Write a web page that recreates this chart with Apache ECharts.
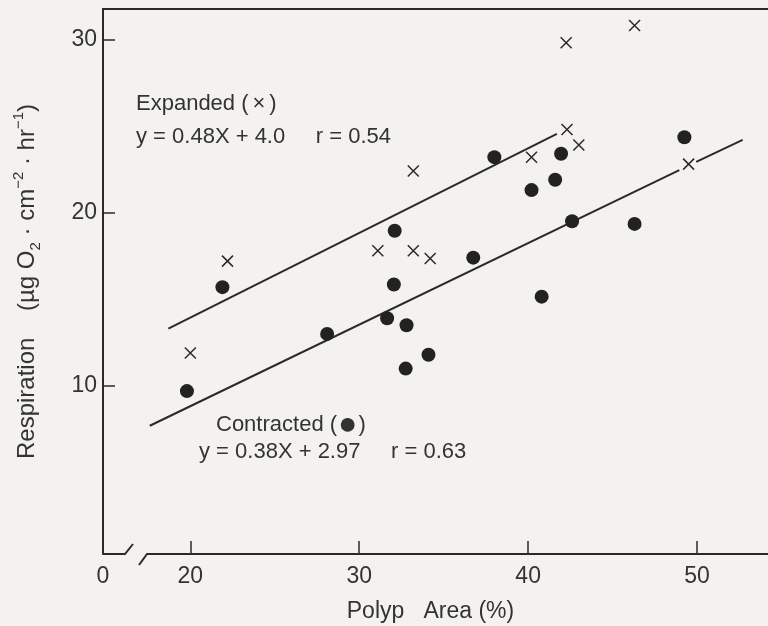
<!DOCTYPE html>
<html>
<head>
<meta charset="utf-8">
<script src="https://cdn.jsdelivr.net/npm/echarts@6/dist/echarts.min.js"></script>
<style>
html,body{margin:0;padding:0;background:#f3f2ee;}
#main{width:768px;height:626px;}
</style>
</head>
<body>
<div id="main"></div>
<script>
// ---- data ----
const expandedX = [20.0, 22.2, 31.1, 33.2, 34.2, 33.2, 40.2, 42.3, 43.0, 42.25, 46.3, 49.5];
const expandedY = [11.9, 17.2, 17.8, 17.8, 17.35, 22.4, 23.2, 24.8, 23.9, 29.8, 30.8, 22.8];
const contractedX = [19.8, 21.9, 28.1, 31.65, 32.8, 32.75, 34.1, 32.05, 32.1, 36.75, 38.0, 40.2, 41.6, 41.95, 40.8, 42.6, 46.3, 49.25];
const contractedY = [9.7, 15.7, 13.0, 13.9, 13.5, 11.0, 11.8, 15.85, 18.95, 17.4, 23.2, 21.3, 21.9, 23.4, 15.15, 19.5, 19.35, 24.35];
const expandedFitX = [18.7, 41.7];
const expandedFitY = [13.3, 24.55];
const contractedFitX = [17.6, 48.95, '-', 49.95, 52.7];
const contractedFitY = [7.7, 22.45, '-', 22.93, 24.2];
const xTickValues = [20, 30, 40, 50];
const yTickValues = [10, 20, 30];
const xMin = 14.83, xMax = 54.2, yMin = 0.3, yMax = 31.75;
const xZeroLabel = '0';
const expandedLabel = '{a|Expanded (}{b|×}{a|)}';
const expandedEq = 'y = 0.48X + 4.0     r = 0.54';
const contractedLabel = '{a|Contracted (}{b|●}{a|)}';
const contractedEq = 'y = 0.38X + 2.97     r = 0.63';

const ink = '#2a2a2a';
const txt = '#333333';
const font = 'Liberation Sans';

const zip = (xs, ys) => xs.map((x, i) => [x, ys[i]]);

const chart = echarts.init(document.getElementById('main'), null, {renderer: 'canvas'});
const option = {
  backgroundColor: '#f3f2ee',
  animation: false,
  textStyle: {fontFamily: font},
  grid: {left: 103, right: 0, top: 9, bottom: 72, outerBoundsMode: 'none', containLabel: false},
  xAxis: [{
    type: 'value', min: xMin, max: xMax,
    axisLine: {show: false},
    axisTick: {show: true, inside: true, length: 13, lineStyle: {color: ink, width: 1.5}, customValues: xTickValues},
    axisLabel: {show: true, color: txt, fontSize: 23, fontFamily: font, margin: 11,
      customValues: [xMin].concat(xTickValues),
      formatter: v => (Math.abs(v - xMin) < 1e-6 ? xZeroLabel : String(v))},
    splitLine: {show: false},
    name: 'Polyp   Area (%)', nameLocation: 'middle', nameGap: 46,
    nameTextStyle: {color: txt, fontSize: 23, fontFamily: font, padding: [0, 10, 0, 0]}
  }, {
    type: 'value', position: 'top', min: xMin, max: xMax,
    axisLine: {show: true, onZero: false, lineStyle: {color: ink, width: 2}},
    axisTick: {show: false}, axisLabel: {show: false}, splitLine: {show: false}
  }],
  yAxis: {
    type: 'value', min: yMin, max: yMax,
    axisLine: {show: true, onZero: false, lineStyle: {color: ink, width: 2}},
    axisTick: {show: true, inside: true, length: 12, lineStyle: {color: ink, width: 1.5}, customValues: yTickValues},
    axisLabel: {show: true, color: txt, fontSize: 23, fontFamily: font, margin: 6, customValues: yTickValues},
    splitLine: {show: false},
    name: '{a|Respiration    (µg O}{sub|2}{a| · cm}{sup|−2}{a| · hr}{sup|−1}{a|)}',
    nameLocation: 'middle', nameGap: 60,
    nameTextStyle: {
      color: txt, fontFamily: font,
      rich: {
        a: {fontSize: 24, color: txt, fontFamily: font, lineHeight: 32, verticalAlign: 'middle'},
        sub: {fontSize: 15, color: txt, fontFamily: font, lineHeight: 32, verticalAlign: 'bottom'},
        sup: {fontSize: 15, color: txt, fontFamily: font, lineHeight: 32, verticalAlign: 'top'}
      }
    }
  },
  series: [{
    name: 'Expanded fit', type: 'line', data: zip(expandedFitX, expandedFitY),
    showSymbol: false, symbol: 'none', lineStyle: {color: ink, width: 2}, z: 2
  }, {
    name: 'Contracted fit', type: 'line', data: zip(contractedFitX, contractedFitY),
    showSymbol: false, symbol: 'none', connectNulls: false, lineStyle: {color: ink, width: 2}, z: 2
  }, {
    name: 'Contracted', type: 'scatter', data: zip(contractedX, contractedY),
    symbol: 'circle', symbolSize: 14, itemStyle: {color: '#222222', opacity: 1}, z: 3
  }, {
    name: 'Expanded', type: 'scatter', data: zip(expandedX, expandedY),
    symbol: 'path://M0,0L10,10M10,0L0,10', symbolSize: [11, 11], symbolKeepAspect: true,
    itemStyle: {color: 'none', borderColor: ink, borderWidth: 1.5, opacity: 1}, z: 4
  }]
};
chart.setOption(option);

// axis break decoration on the x axis, positioned from the axis origin
const o = chart.convertToPixel({gridIndex: 0}, [xMin, yMin]);
const right = chart.convertToPixel({gridIndex: 0}, [xMax, yMin]);
const richText = {
  a: {fontSize: 22, fontFamily: font, fill: txt},
  b: {fontSize: 22, fontFamily: font, fill: txt, padding: [0, 4]}
};
chart.setOption({
  graphic: [
    {type: 'polyline', shape: {points: [[o[0], o[1]], [o[0] + 22, o[1]], [o[0] + 30, o[1] - 10]]},
     style: {stroke: ink, lineWidth: 2, fill: null}, z: 10},
    {type: 'polyline', shape: {points: [[o[0] + 36, o[1] + 11], [o[0] + 44, o[1]], [right[0], o[1]]]},
     style: {stroke: ink, lineWidth: 2, fill: null}, z: 10},
    {type: 'text', left: 136, top: 93, style: {text: expandedLabel, rich: richText, fill: txt}},
    {type: 'text', left: 136, top: 126, style: {text: expandedEq, font: '22px "' + font + '"', fill: txt}},
    {type: 'text', left: 216, top: 409, style: {text: contractedLabel, rich: {
      a: {fontSize: 22, fontFamily: font, fill: txt, lineHeight: 28},
      b: {fontSize: 32, fontFamily: font, fill: txt, lineHeight: 28, padding: [0, 1]}}, fill: txt}},
    {type: 'text', left: 199, top: 441, style: {text: contractedEq, font: '22px "' + font + '"', fill: txt}}
  ]
});
</script>
</body>
</html>
